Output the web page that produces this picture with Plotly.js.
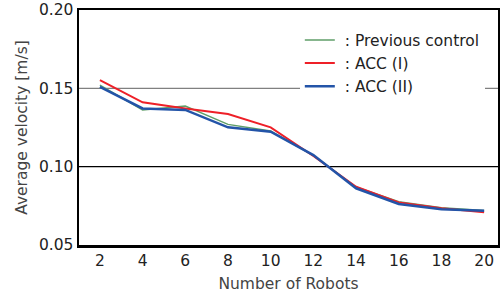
<!DOCTYPE html>
<html><head><meta charset="utf-8">
<script src="https://cdn.plot.ly/plotly-3.0.1.min.js"></script>
<style>html,body{margin:0;padding:0;background:#fff}#c{width:500px;height:296px}</style>
</head><body><div id="c"></div>
<script>
const robots = [2,4,6,8,10,12,14,16,18,20];
const previousControl = [0.152,0.1362,0.1387,0.127,0.1228,0.107,0.087,0.0776,0.0738,0.0720];
const accI = [0.1553,0.1411,0.1372,0.1336,0.1251,0.1068,0.0872,0.0772,0.0734,0.0709];
const accII = [0.151,0.1372,0.1362,0.1251,0.1223,0.1074,0.0862,0.0762,0.0728,0.0719];
const names = [' : Previous control',' : ACC (I)',' : ACC (II)'];
const gridVals = [0.15, 0.10];
const gridColors = ['#808080','#000000'];

const font = '"DejaVu Sans", sans-serif';
const fs = 15.5;
const traces = [
  {x: robots, y: previousControl, name: names[0], mode:'lines', line:{color:'#5f9e68', width:1.5}},
  {x: robots, y: accI, name: names[1], mode:'lines', line:{color:'#ee2028', width:2}},
  {x: robots, y: accII, name: names[2], mode:'lines', line:{color:'#2354a8', width:2.5}}
];
const layout = {
  width:500, height:296,
  margin:{l:79, r:2, t:10, b:51},
  paper_bgcolor:'#fff', plot_bgcolor:'#fff',
  font:{family:font, size:fs, color:'#222'},
  showlegend:true,
  legend:{x:0.527, y:0.943, xanchor:'left', yanchor:'top', bgcolor:'#fff', borderwidth:0,
          font:{family:font, size:fs, color:'#222'}, tracegroupgap:0, itemwidth:30},
  xaxis:{range:[1.02,20.65], tickvals:robots, ticks:'', showgrid:false, zeroline:false,
         showline:true, linecolor:'#000', linewidth:2.5, mirror:true,
         title:{text:'Number of Robots', font:{family:font, size:fs, color:'#444'}, standoff:9},
         tickfont:{family:font, size:fs, color:'#222'}},
  yaxis:{range:[0.05,0.20], tickvals:[0.05,0.10,0.15,0.20], tickformat:'.2f', ticks:'',
         showgrid:false, zeroline:false, showline:true, linecolor:'#000', linewidth:2.5, mirror:true,
         title:{text:'Average velocity [m/s]', font:{family:font, size:fs, color:'#444'}, standoff:8},
         tickfont:{family:font, size:fs, color:'#222'}},
  shapes: gridVals.map((v,i)=>({type:'line', xref:'paper', x0:0, x1:1, yref:'y', y0:v, y1:v,
          line:{color:gridColors[i], width:1.2}, layer:'below'}))
};
Plotly.newPlot('c', traces, layout, {staticPlot:true, displayModeBar:false});
</script></body></html>
